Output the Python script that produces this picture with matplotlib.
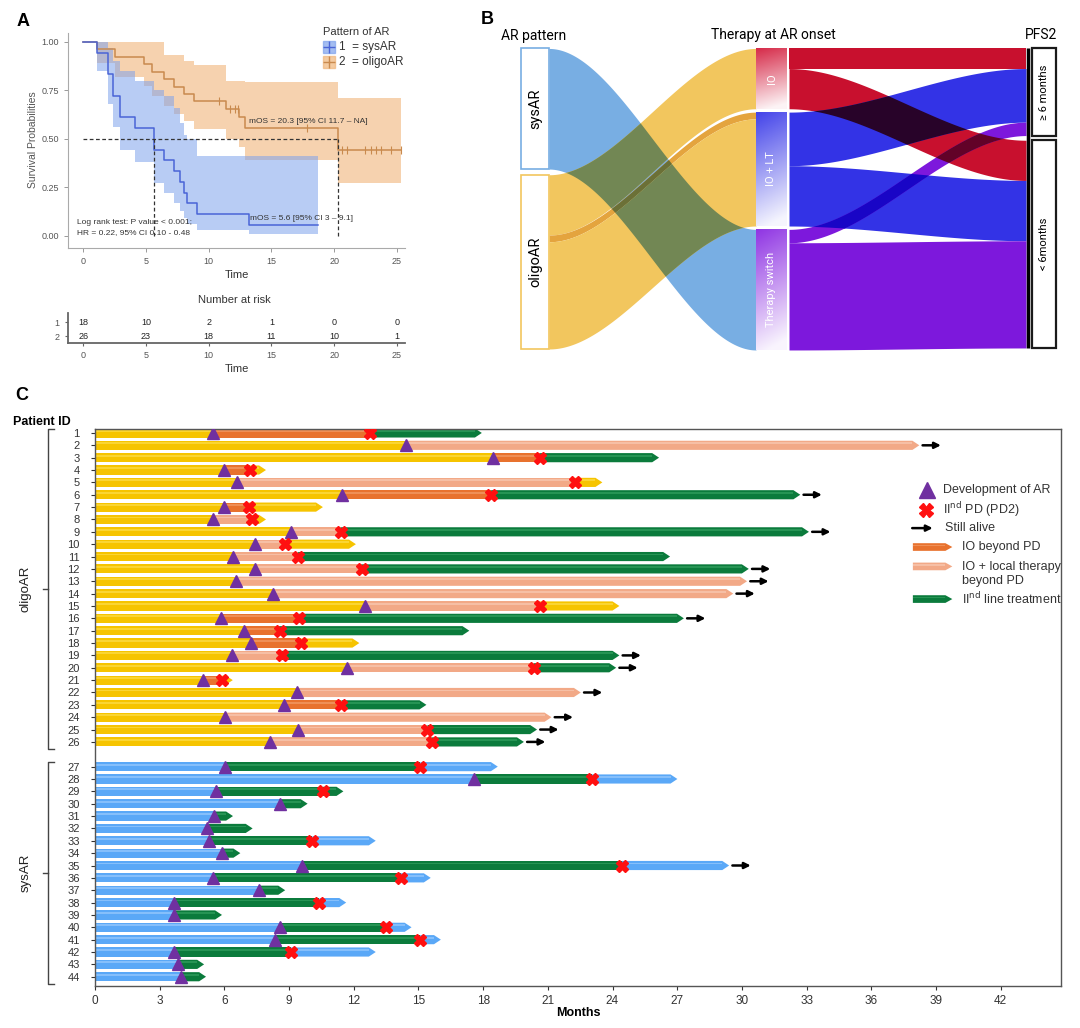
import numpy as np
import matplotlib.pyplot as plt
import matplotlib.colors as mcolors
import matplotlib.transforms as mtransforms
from matplotlib.patches import Rectangle, Polygon
from matplotlib.lines import Line2D
from itertools import combinations

plt.rcParams['font.family'] = ['Liberation Sans', 'DejaVu Sans']

W, H = 1080, 1028

# ---------------- panel A: Kaplan-Meier ----------------
sys_t = [0, 1.1, 2.0, 2.4, 2.9, 4.1, 5.6, 6.4, 7.2, 7.7, 8.0, 8.3, 9.1, 13.2]
sys_s = [1.0, 0.944, 0.833, 0.722, 0.611, 0.556, 0.444, 0.389, 0.333, 0.278, 0.222, 0.167, 0.111, 0.056]
sys_lo = [1.0, 0.85, 0.68, 0.56, 0.44, 0.38, 0.27, 0.22, 0.17, 0.13, 0.09, 0.06, 0.03, 0.01]
sys_hi = [1.0, 1.0, 0.97, 0.90, 0.85, 0.80, 0.75, 0.72, 0.66, 0.58, 0.52, 0.50, 0.41, 0.41]
sys_end = 18.7

oli_t = [0, 1.1, 2.5, 4.8, 5.5, 6.4, 7.2, 8.0, 8.8, 11.4, 12.4, 12.9, 20.3]
oli_s = [1.0, 0.962, 0.923, 0.885, 0.846, 0.808, 0.769, 0.731, 0.692, 0.652, 0.613, 0.555, 0.444]
oli_lo = [1.0, 0.89, 0.82, 0.77, 0.72, 0.67, 0.63, 0.59, 0.55, 0.50, 0.46, 0.39, 0.27]
oli_hi = [1.0, 1.0, 1.0, 1.0, 1.0, 0.93, 0.93, 0.90, 0.88, 0.80, 0.80, 0.79, 0.71]
oli_end = 25.3
oli_cens = [10.8, 11.7, 12.1, 12.3, 17.8, 20.6, 21.0, 22.5, 22.9, 23.3, 23.7, 24.5, 25.3]

med_sys, med_oli = 5.6, 20.3
risk_times = [0, 5, 10, 15, 20, 25]
risk_sys = [18, 10, 2, 1, 0, 0]
risk_oli = [26, 23, 18, 11, 10, 1]

# ---------------- panel B: alluvial counts ----------------
ar_groups = ['sysAR', 'oligoAR']
therapy = ['IO', 'IO + LT', 'Therapy switch']
pfs2 = ['≥ 6 months', '< 6months']
flows_ab = [('sysAR', 'Therapy switch', 18), ('oligoAR', 'IO', 9),
            ('oligoAR', 'IO + LT', 1), ('oligoAR', 'IO + LT', 16)]
flows_ab_col = ['#78AEE3', '#F2C65E', '#E4A43E', '#F2C65E']
flows_bc = [('IO', '≥ 6 months', 3), ('IO', '< 6months', 6),
            ('IO + LT', '≥ 6 months', 8), ('IO + LT', '< 6months', 9),
            ('Therapy switch', '≥ 6 months', 2), ('Therapy switch', '< 6months', 16)]
therapy_col = {'IO': '#C8102E', 'IO + LT': '#3333E6', 'Therapy switch': '#7D18DC'}
node_col = {'IO': '#D42040', 'IO + LT': '#3A3AE8', 'Therapy switch': '#8A2BE2'}
ar_col = {'sysAR': '#78AEE3', 'oligoAR': '#F2C65E'}

# ---------------- panel C: swimmer plot ----------------
n_oligo, n_sys = 26, 18
patient_id = list(range(1, n_oligo + n_sys + 1))
ar_onset = [5.48, 14.41, 18.48, 5.97, 6.60, 11.45, 5.99, 5.49, 9.10, 7.41, 6.39, 7.41, 6.52,
            8.27, 12.51, 5.84, 6.92, 7.25, 6.35, 11.67, 5.03, 9.37, 8.77, 6.02, 9.42, 8.13,
            6.02, 17.56, 5.61, 8.56, 5.54, 5.20, 5.31, 5.91, 9.61, 5.49, 7.61, 3.67, 3.67,
            8.59, 8.37, 3.66, 3.84, 3.97]
nan = np.nan
pd2 = [12.76, nan, 20.64, 7.18, 22.25, 18.37, 7.13, 7.30, 11.40, 8.79, 9.42, 12.36, nan,
       nan, 20.64, 9.47, 8.56, 9.55, 8.65, 20.35, 5.91, nan, 11.43, nan, 15.42, 15.62,
       15.09, 23.05, 10.57, nan, nan, nan, 10.08, nan, 24.44, 14.17, nan, 10.41, nan,
       13.50, 15.08, 9.08, nan, nan]
last_fu = [17.94, 38.23, 26.16, 7.93, 23.53, 32.71, 10.57, 7.93, 33.11, 12.10, 26.67, 30.32,
           30.24, 29.60, 24.32, 27.31, 17.36, 12.26, 24.32, 24.17, 6.39, 22.53, 15.37, 21.17,
           20.50, 19.89,
           18.68, 27.01, 11.52, 9.86, 6.40, 7.31, 13.02, 6.74, 29.41, 15.57, 8.82, 11.65,
           5.89, 14.68, 16.04, 13.02, 5.06, 5.15]
post_ar = "OSOOSOOSSSSSSSSOOOSSOSOSSS" + "G" * 18
post_pd = "G-GYYGYYGYGG--YGGYGGY-G-GG" + "BBG---B-BB-B-BBB--"
alive = [2, 6, 9, 12, 13, 14, 16, 19, 20, 22, 24, 25, 26, 35]

bar_col = {'Y': '#F6C400', 'B': '#5AA8F7', 'O': '#E8722E', 'S': '#F2A987', 'G': '#0B7B3C'}
bar_hi = {'Y': '#FFE45E', 'B': '#A9D3FF', 'O': '#F5A878', 'S': '#FAD2BF', 'G': '#3DAA68'}

fig = plt.figure(figsize=(W / 100, H / 100), dpi=100)


def px_axes(x0, y0, x1, y1):
    return fig.add_axes([x0 / W, 1 - y1 / H, (x1 - x0) / W, (y1 - y0) / H])


def ftext(x, y, s, **kw):
    fig.text(x / W, 1 - y / H, s, **kw)


# ======================= A =======================
ftext(23, 22, 'A', fontsize=13, weight='bold', ha='center', va='center')
axA = px_axes(68, 33, 405, 248)
sys_line, sys_band = '#4A64D6', '#7EA2EC'
oli_line, oli_band = '#C98A4E', '#F0B57A'
for t, lo, hi, end, c, a in [(oli_t, oli_lo, oli_hi, oli_end, oli_band, 0.6),
                             (sys_t, sys_lo, sys_hi, sys_end, sys_band, 0.55)]:
    axA.fill_between(np.r_[t, end], np.r_[lo, lo[-1]], np.r_[hi, hi[-1]],
                     step='post', color=c, alpha=a, lw=0)
for t, s, end, c in [(oli_t, oli_s, oli_end, oli_line), (sys_t, sys_s, sys_end, sys_line)]:
    axA.step(np.r_[t, end], np.r_[s, s[-1]], where='post', color=c, lw=1.1)
cens_s = np.array(oli_s)[np.searchsorted(oli_t, oli_cens, side='right') - 1]
axA.plot(oli_cens, cens_s, ls='none', marker='|', ms=6, mew=0.8, color=oli_line)

dash = dict(ls=(0, (3, 2)), color='#333333', lw=0.9)
axA.plot([0, med_oli], [0.5, 0.5], **dash)
axA.plot([med_sys, med_sys], [0, 0.5], **dash)
axA.plot([med_oli, med_oli], [0, 0.5], **dash)

axA.text(13.2, 0.59, 'mOS = 20.3 [95% CI 11.7 – NA]', fontsize=6, color='#333', va='center')
axA.text(13.3, 0.09, 'mOS = 5.6 [95% CI 3 – 9.1]', fontsize=6, color='#333', va='center')
axA.text(-0.5, 0.0, 'Log rank test: P value < 0.001;\nHR = 0.22, 95% CI 0.10 - 0.48',
         fontsize=6, color='#333', va='bottom', linespacing=1.5)

axA.set_xlim(-1.22, 25.65)
axA.set_ylim(-0.063, 1.045)
axA.set_xticks(risk_times)
axA.set_yticks([0, 0.25, 0.5, 0.75, 1.0], ['0.00', '0.25', '0.50', '0.75', '1.00'])
axA.tick_params(labelsize=6.5, labelcolor='#555', color='#999', length=3, width=0.7)
for sp in ['top', 'right']:
    axA.spines[sp].set_visible(False)
for sp in ['left', 'bottom']:
    axA.spines[sp].set_color('#aaaaaa')
    axA.spines[sp].set_linewidth(0.8)
axA.set_xlabel('Time', fontsize=8, color='#333', labelpad=3)
ftext(33, 140, 'Survival Probabilities', rotation=90, fontsize=7.5, color='#555',
      ha='center', va='center')

# legend
axA.text(0.758, 1.006, 'Pattern of AR', transform=axA.transAxes, fontsize=8, color='#333',
         va='center')
for fy, band, line, lab in [(0.936, sys_band, sys_line, '1  = sysAR'),
                            (0.867, oli_band, oli_line, '2  = oligoAR')]:
    axA.plot([0.774], [fy], marker='s', ms=8, color=band, alpha=0.7, transform=axA.transAxes,
             clip_on=False)
    axA.plot([0.774], [fy], marker='+', ms=8, mew=1, color=line, transform=axA.transAxes,
             clip_on=False)
    axA.text(0.805, fy, lab, transform=axA.transAxes, fontsize=8.5, color='#333', va='center')

# risk table
ftext(234, 300, 'Number at risk', fontsize=8, color='#333', ha='center', va='center')
axR = px_axes(68, 313, 405, 343)
for row, vals in [(1, risk_sys), (2, risk_oli)]:
    for t, v in zip(risk_times, vals):
        axR.text(t, row, str(v), fontsize=6.5, ha='center', va='center', color='#222')
axR.set_xlim(-1.22, 25.65)
axR.set_ylim(2.51, 0.32)
axR.set_xticks(risk_times)
axR.set_yticks([1, 2], ['1', '2'])
for lab, c in zip(axR.get_yticklabels(), [sys_line, oli_line]):
    lab.set_color(c)
axR.tick_params(labelsize=6.5, labelcolor='#555', color='#666', length=2.5, width=0.8)
for sp in ['top', 'right']:
    axR.spines[sp].set_visible(False)
for sp in ['left', 'bottom']:
    axR.spines[sp].set_color('#666')
    axR.spines[sp].set_linewidth(1.3)
axR.set_xlabel('Time', fontsize=8, color='#333', labelpad=3)

# ======================= B =======================
ftext(487, 20, 'B', fontsize=13, weight='bold', ha='center', va='center')
axB = px_axes(495, 25, 1065, 355)
LX, MX, RX = (26, 54), (261, 292), (537, 561)
S1, S2 = (54, 261), (294, 531)


def stack(names, counts, gap):
    pos, y = {}, 0.0
    for n, c in zip(names, counts):
        pos[n] = (y, y + c)
        y += c + gap
    return pos


def place(flows, src_pos, dst_pos, src_names, dst_names):
    so = {k: src_pos[k][0] for k in src_names}
    do = {k: dst_pos[k][0] for k in dst_names}
    n = len(flows)
    a, b = [None] * n, [None] * n
    for i in sorted(range(n), key=lambda i: (src_names.index(flows[i][0]), dst_names.index(flows[i][1]))):
        s = flows[i][0]
        a[i] = (so[s], so[s] + flows[i][2])
        so[s] += flows[i][2]
    for i in sorted(range(n), key=lambda i: (dst_names.index(flows[i][1]), src_names.index(flows[i][0]))):
        d = flows[i][1]
        b[i] = (do[d], do[d] + flows[i][2])
        do[d] += flows[i][2]
    return [(a[i][0], a[i][1], b[i][0], b[i][1]) for i in range(n)]


def draw_stage(ax, xs, bands, colors):
    # overlapping ribbons are coloured as if multiplied
    x = np.linspace(xs[0], xs[1], 400)
    u = (x - xs[0]) / (xs[1] - xs[0])
    s = u * u * (3 - 2 * u)
    tops = [a0 + (b0 - a0) * s for a0, a1, b0, b1 in bands]
    bots = [a1 + (b1 - a1) * s for a0, a1, b0, b1 in bands]
    rgb = [np.array(mcolors.to_rgb(c)) for c in colors]
    for r in range(1, len(bands) + 1):
        for combo in combinations(range(len(bands)), r):
            lo = np.max([tops[i] for i in combo], axis=0)
            hi = np.min([bots[i] for i in combo], axis=0)
            ok = lo < hi
            if not ok.any():
                continue
            col = np.prod([rgb[i] for i in combo], axis=0)
            ax.fill_between(x, lo, hi, where=ok, color=col, lw=0, interpolate=True, zorder=1)


ar_counts = [sum(f[2] for f in flows_ab if f[0] == g) for g in ar_groups]
mid_counts = [sum(f[2] for f in flows_ab if f[1] == g) for g in therapy]
pfs_counts = [sum(f[2] for f in flows_bc if f[1] == g) for g in pfs2]
left_pos = stack(ar_groups, ar_counts, 0.85)
mid_pos = stack(therapy, mid_counts, 0.5)
right_pos = stack(pfs2, pfs_counts, 0.7)

draw_stage(axB, S1, place(flows_ab, left_pos, mid_pos, ar_groups, therapy), flows_ab_col)
draw_stage(axB, S2, place(flows_bc, mid_pos, right_pos, therapy, pfs2),
           [therapy_col[f[0]] for f in flows_bc])

for g in ar_groups:
    y0, y1 = left_pos[g]
    axB.add_patch(Rectangle((LX[0], y0), LX[1] - LX[0], y1 - y0, fc='white', ec=ar_col[g],
                            lw=1.2, zorder=3))
    axB.text(sum(LX) / 2, (y0 + y1) / 2, g, rotation=90, ha='center', va='center',
             fontsize=10.5, family='Roboto', zorder=4)

for g in therapy:
    y0, y1 = mid_pos[g]
    c = np.array(mcolors.to_rgb(node_col[g]))
    v = np.linspace(0, 1, 64)[:, None]
    h = np.linspace(0, 1, 16)[None, :]
    w = np.clip(0.05 + 0.85 * v + 0.12 * h, 0, 0.95)[..., None]
    img = c[None, None, :] * (1 - w) + w
    axB.imshow(img, extent=(MX[0], MX[1], y1, y0), aspect='auto', interpolation='bilinear',
               zorder=3)
    axB.text(sum(MX) / 2, (y0 + y1) / 2, g, rotation=90, ha='center', va='center',
             fontsize=8, color='white', family='Roboto', zorder=4)

for g in pfs2:
    y0, y1 = right_pos[g]
    axB.add_patch(Rectangle((RX[0], y0), RX[1] - RX[0], y1 - y0, fc='white', ec='#1a1a1a',
                            lw=1.6, zorder=3))
    axB.text(sum(RX) / 2, (y0 + y1) / 2, g, rotation=90, ha='center', va='center',
             fontsize=8, family='Roboto', zorder=4)
axB.plot([532.5, 532.5], [0, right_pos[pfs2[-1]][1]], color='black', lw=2.5, zorder=2,
         solid_capstyle='butt')

axB.set_xlim(0, 570)
axB.set_ylim(45.75, -3.5)
axB.axis('off')
ftext(534, 36, 'AR pattern', fontsize=10, ha='center', va='center', family='Roboto')
ftext(773, 35, 'Therapy at AR onset', fontsize=10, ha='center', va='center', family='Roboto')
ftext(1041, 35, 'PFS2', fontsize=10, ha='center', va='center', family='Roboto')

# ======================= C =======================
ftext(22, 395, 'C', fontsize=13, weight='bold', ha='center', va='center')
ftext(13, 422, 'Patient ID', fontsize=9, weight='bold', ha='left', va='center')
axC = px_axes(95, 429, 1061, 986)
slots = np.r_[np.arange(n_oligo), np.arange(n_oligo + 1, n_oligo + 1 + n_sys)]


def draw_bar(ax, y, x0, x1, code, tip=False, h=0.74, z=2):
    t = min(0.32, x1 - x0) if tip else 0.0
    xs = [x0, x1 - t, x1, x1 - t, x0]
    ys = [y - h / 2, y - h / 2, y, y + h / 2, y + h / 2]
    ax.add_patch(Polygon(list(zip(xs, ys)), closed=True, fc=bar_col[code], ec='none', zorder=z))
    # light streak for the rounded look
    ax.add_patch(Rectangle((x0, y - h * 0.32), max(x1 - t - x0, 0), h * 0.2, fc=bar_hi[code],
                           ec='none', alpha=0.55, zorder=z))


def still_alive(ax, x, y, length=0.85):
    ax.annotate('', xy=(x + length, y), xytext=(x, y),
                arrowprops=dict(arrowstyle='-|>', color='black', lw=1.8, mutation_scale=9,
                                shrinkA=0, shrinkB=0), zorder=5)


for k, pid in enumerate(patient_id):
    y = slots[k]
    base = 'Y' if k < n_oligo else 'B'
    pts, segs = [0, ar_onset[k]], [base, post_ar[k]]
    if not np.isnan(pd2[k]):
        pts.append(pd2[k])
        segs.append(post_pd[k])
    pts.append(last_fu[k])
    for i, c in enumerate(segs):
        draw_bar(axC, y, pts[i], pts[i + 1], c, tip=(i == len(segs) - 1))
    if pid in alive:
        still_alive(axC, last_fu[k] + 0.15, y)

axC.plot(ar_onset, slots, ls='none', marker='^', ms=9, color='#7030A0', zorder=6)
axC.plot(pd2, slots, ls='none', marker='X', ms=9, color='#FF1010', mec='#FF1010', zorder=7)

# legend
axC.plot([38.6], [4.65], marker='^', ms=11, color='#7030A0', ls='none')
axC.text(39.35, 4.65, 'Development of AR', fontsize=9, va='center', color='#333')
axC.plot([38.55], [6.2], marker='X', ms=10, color='#FF1010', ls='none')
axC.text(39.35, 6.2, 'II$^{\\rm nd}$ PD (PD2)', fontsize=9, va='center', color='#333')
still_alive(axC, 37.9, 7.7, length=0.95)
axC.text(39.4, 7.7, 'Still alive', fontsize=9, va='center', color='#333')
for yy, code in [(9.23, 'O'), (10.8, 'S'), (13.44, 'G')]:
    draw_bar(axC, yy, 37.93, 39.76, code, tip=True, h=0.62)
axC.text(40.2, 9.23, 'IO beyond PD', fontsize=9, va='center', color='#333')
axC.text(40.2, 10.83, 'IO + local therapy', fontsize=9, va='center', color='#333')
axC.text(40.2, 11.94, 'beyond PD', fontsize=9, va='center', color='#333')
axC.text(40.2, 13.44, 'II$^{\\rm nd}$ line treatment', fontsize=9, va='center', color='#333')

axC.set_xlim(0, 44.8)
axC.set_ylim(44.75, -0.32)
axC.set_xticks(np.arange(0, 43, 3))
axC.set_yticks(slots, [str(p) for p in patient_id])
axC.tick_params(axis='y', labelsize=8, length=3, pad=8, colors='#333')
axC.tick_params(axis='x', labelsize=8.5, length=3, colors='#333')
for sp in axC.spines.values():
    sp.set_color('#555')
    sp.set_linewidth(1.0)
axC.set_xlabel('Months', fontsize=9, weight='bold', labelpad=0)

# group brackets
tr = mtransforms.blended_transform_factory(axC.transAxes, axC.transData)
for lo, hi, lab in [(slots[0], slots[n_oligo - 1], 'oligoAR'), (slots[n_oligo], slots[-1], 'sysAR')]:
    ya, yb = lo - 0.35, hi + 0.55
    bx, ex, mx = -0.0487, -0.0424, -0.0538
    axC.plot([ex, bx, bx, ex], [ya, ya, yb, yb], color='#444', lw=1, transform=tr, clip_on=False)
    axC.plot([bx, mx], [(ya + yb) / 2] * 2, color='#444', lw=1, transform=tr, clip_on=False)
    axC.text(-0.072, (ya + yb) / 2, lab, rotation=90, ha='center', va='center', fontsize=9.5,
             transform=tr, color='#222')

fig.savefig('out.png', dpi=100)
